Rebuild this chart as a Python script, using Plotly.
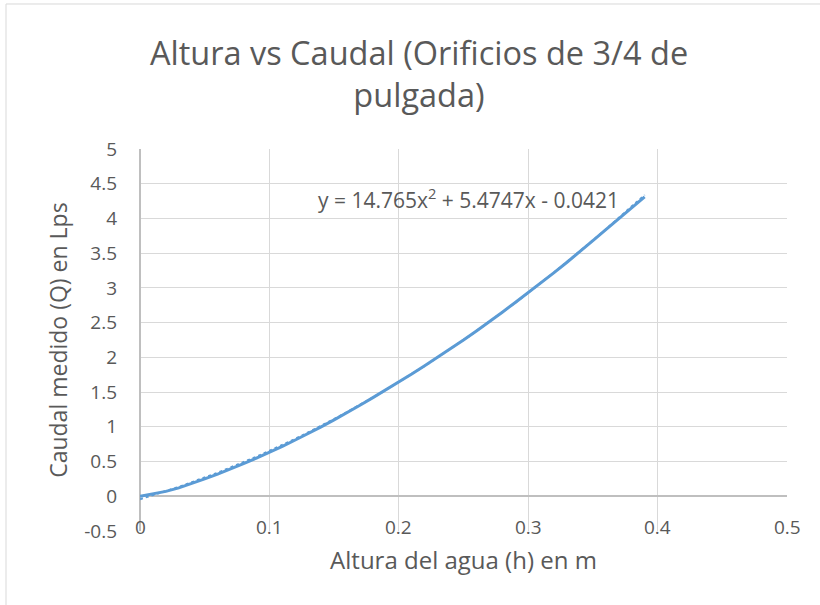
import plotly.graph_objects as go

# Measured water height (m) and discharge (L/s) for 3/4" orifices
altura_m = [0.00, 0.01, 0.02, 0.03, 0.04, 0.05, 0.06, 0.07, 0.08, 0.09,
            0.10, 0.11, 0.12, 0.13, 0.14, 0.15, 0.16, 0.17, 0.18, 0.19,
            0.20, 0.21, 0.22, 0.23, 0.24, 0.25, 0.26, 0.27, 0.28, 0.29,
            0.30, 0.31, 0.32, 0.33, 0.34, 0.35, 0.36, 0.37, 0.38, 0.39]
caudal_lps = [0.00, 0.03, 0.07, 0.12, 0.18, 0.25, 0.32, 0.39, 0.47, 0.55,
              0.63, 0.72, 0.81, 0.90, 1.00, 1.10, 1.20, 1.31, 1.42, 1.53,
              1.64, 1.76, 1.88, 2.00, 2.12, 2.25, 2.38, 2.51, 2.65, 2.79,
              2.93, 3.07, 3.22, 3.37, 3.52, 3.68, 3.84, 4.00, 4.16, 4.31]

# Polynomial trendline coefficients (order 2)
coef_a, coef_b, coef_c = 14.765, 5.4747, -0.0421

x_ticks = [0, 0.1, 0.2, 0.3, 0.4, 0.5]
x_tick_text = ["0", "0.1", "0.2", "0.3", "0.4", "0.5"]
y_ticks = [-0.5, 0, 0.5, 1, 1.5, 2, 2.5, 3, 3.5, 4, 4.5, 5]
y_tick_text = ["-0.5", "0", "0.5", "1", "1.5", "2", "2.5", "3", "3.5", "4", "4.5", "5"]

FONT = "Open Sans"
GRAY = "#595959"
GRID = "#d9d9d9"
BLUE = "#5b9bd5"

trend_x = [altura_m[0] + i * (altura_m[-1] - altura_m[0]) / 100 for i in range(101)]
trend_y = [coef_a * x * x + coef_b * x + coef_c for x in trend_x]

fig = go.Figure()
fig.add_trace(go.Scatter(x=trend_x, y=trend_y, mode="lines",
                         line=dict(color=BLUE, width=2, dash="dot"),
                         showlegend=False, hoverinfo="skip"))
fig.add_trace(go.Scatter(x=altura_m, y=caudal_lps, mode="lines",
                         line=dict(color=BLUE, width=3),
                         showlegend=False))

# x tick labels sit on the bottom edge of the plot area
for v, t in zip(x_ticks, x_tick_text):
    fig.add_annotation(x=v, y=y_ticks[0], text=t, showarrow=False,
                       xanchor="center", yanchor="middle", yshift=4,
                       font=dict(family=FONT, size=19, color=GRAY))

fig.add_annotation(x=0.2535, y=4.29,
                   text=f"y = {coef_a}x<sup>2</sup> + {coef_b}x - {abs(coef_c)}",
                   showarrow=False, xanchor="center", yanchor="middle",
                   font=dict(family=FONT, size=21, color=GRAY))

# vertical axis title, placed next to the tick labels
fig.add_annotation(xref="paper", yref="paper", x=-0.127, y=0.5,
                   text="Caudal medido (Q) en Lps", textangle=-90,
                   showarrow=False, xanchor="center", yanchor="middle",
                   font=dict(family=FONT, size=23, color=GRAY))

# outer chart border
fig.add_shape(type="rect", xref="paper", yref="paper",
              x0=-0.2071, x1=1.06, y0=-0.21, y1=1.3796,
              line=dict(color=GRID, width=1), layer="below")

fig.update_layout(
    width=820, height=605,
    margin=dict(l=140, r=33, t=149, b=74),
    paper_bgcolor="white", plot_bgcolor="white",
    title=dict(text="Altura vs Caudal (Orificios de 3/4 de<br>pulgada)",
               x=419 / 820, xanchor="center", y=1 - 65 / 605, yanchor="middle",
               font=dict(family=FONT, size=32.5, color=GRAY)),
    xaxis=dict(range=[0, 0.5], tickvals=x_ticks, showticklabels=False,
               showgrid=True, gridcolor=GRID, gridwidth=1,
               zeroline=True, zerolinecolor="#bfbfbf", zerolinewidth=1.5,
               showline=False,
               title=dict(text="Altura del agua (h) en m", standoff=21,
                          font=dict(family=FONT, size=24, color=GRAY))),
    yaxis=dict(range=[-0.5, 5], tickvals=y_ticks, ticktext=y_tick_text,
               showgrid=True, gridcolor=GRID, gridwidth=1,
               zeroline=True, zerolinecolor="#bfbfbf", zerolinewidth=1.5,
               ticklabelstandoff=22,
               tickfont=dict(family=FONT, size=19, color=GRAY)),
)

fig.write_html("out.html")
